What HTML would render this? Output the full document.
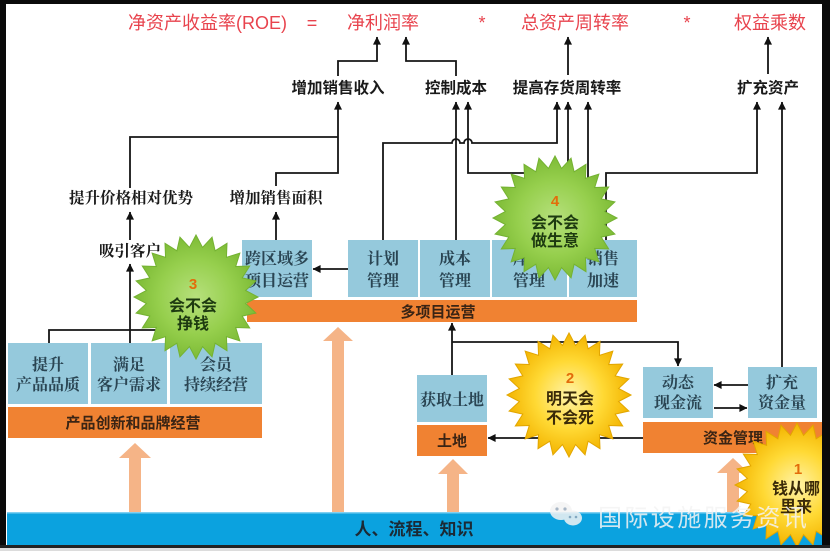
<!DOCTYPE html>
<html>
<head>
<meta charset="utf-8">
<style>
  html,body{margin:0;padding:0;background:#fff;}
  svg{display:block;}
  .t{font-family:"Liberation Sans","Noto Sans CJK SC",sans-serif;}
  .s{font-family:"Liberation Serif","Noto Serif CJK SC",serif;}
</style>
</head>
<body>
<svg width="830" height="551" viewBox="0 0 830 551" xmlns="http://www.w3.org/2000/svg">
<defs>
  <marker id="ah" viewBox="0 0 10 10" refX="9.5" refY="5" markerWidth="9" markerHeight="8" markerUnits="userSpaceOnUse" orient="auto">
    <path d="M0,0 L10,5 L0,10 z" fill="#111"/>
  </marker>
  <radialGradient id="gg" cx="50%" cy="50%" r="50%">
    <stop offset="0%" stop-color="#b6e07c"/>
    <stop offset="60%" stop-color="#96cf4d"/>
    <stop offset="100%" stop-color="#7dbb36"/>
  </radialGradient>
  <radialGradient id="yy" cx="50%" cy="50%" r="50%">
    <stop offset="0%" stop-color="#fff3a8"/>
    <stop offset="55%" stop-color="#ffd934"/>
    <stop offset="100%" stop-color="#f3b400"/>
  </radialGradient>
  <polygon id="star" points="62,0 49.57,6.53 59.89,16.05 46.19,19.13 53.69,31 39.67,30.44 43.84,43.84 30.44,39.67 31,53.69 19.13,46.19 16.05,59.89 6.53,49.57 0,62 -6.53,49.57 -16.05,59.89 -19.13,46.19 -31,53.69 -30.44,39.67 -43.84,43.84 -39.67,30.44 -53.69,31 -46.19,19.13 -59.89,16.05 -49.57,6.53 -62,0 -49.57,-6.53 -59.89,-16.05 -46.19,-19.13 -53.69,-31 -39.67,-30.44 -43.84,-43.84 -30.44,-39.67 -31,-53.69 -19.13,-46.19 -16.05,-59.89 -6.53,-49.57 0,-62 6.53,-49.57 16.05,-59.89 19.13,-46.19 31,-53.69 30.44,-39.67 43.84,-43.84 39.67,-30.44 53.69,-31 46.19,-19.13 59.89,-16.05 49.57,-6.53"/>
  <clipPath id="inner"><rect x="6" y="4" width="816" height="541"/></clipPath>
</defs>

<rect x="0" y="0" width="830" height="551" fill="#ffffff"/>

<!-- Title row -->
<g class="t" fill="#e8434d" font-size="18">
  <text x="128" y="29">净资产收益率(ROE)</text>
  <text x="312" y="29" text-anchor="middle">=</text>
  <text x="347" y="29">净利润率</text>
  <text x="482" y="29" text-anchor="middle">*</text>
  <text x="521" y="29">总资产周转率</text>
  <text x="687" y="29" text-anchor="middle">*</text>
  <text x="734" y="29">权益乘数</text>
</g>

<!-- Peach arrows -->
<g fill="#f5b487">
  <polygon points="135,443 151,458 141,458 141,512 129,512 129,458 119,458"/>
  <polygon points="338,327 353,341 344,341 344,512 332,512 332,341 323,341"/>
  <polygon points="453,459 468,474 459,474 459,512 447,512 447,474 438,474"/>
  <polygon points="733,458 749,473 739,473 739,512 727,512 727,473 717,473"/>
</g>

<!-- Bottom blue band -->
<rect x="7" y="512" width="816" height="33" fill="#0ba2df"/>
<rect x="7" y="512" width="816" height="1.5" fill="#7fd0f2"/>
<text class="t" x="414" y="535" text-anchor="middle" font-size="17" font-weight="700" fill="#1b2a35">人、流程、知识</text>

<!-- Connector lines -->
<g stroke="#151515" stroke-width="1.8" fill="none">
  <path d="M338,76 V61 H377 V37" marker-end="url(#ah)"/>
  <path d="M456,76 V61 H406 V37" marker-end="url(#ah)"/>
  <path d="M568,75 V37" marker-end="url(#ah)"/>
  <path d="M768,74 V37" marker-end="url(#ah)"/>
  <path d="M130,188 V137 H338"/>
  <path d="M276,186 V173 H338 V102" marker-end="url(#ah)"/>
  <path d="M130,240 V212" marker-end="url(#ah)"/>
  <path d="M276,240 V212" marker-end="url(#ah)"/>
  <path d="M130,343 V264" marker-end="url(#ah)"/>
  <path d="M49,343 V330 H215 V343"/>
  <path d="M348,269 H313" marker-end="url(#ah)"/>
  <path d="M383,240 V143 H452 a4,4 0 0 1 8,0 H464 a4,4 0 0 1 8,0 H557 V102" marker-end="url(#ah)"/>
  <path d="M456,240 V102" marker-end="url(#ah)"/>
  <path d="M530,240 V173 H468 V102" marker-end="url(#ah)"/>
  <path d="M568,230 V102" marker-end="url(#ah)"/>
  <path d="M588,240 V102" marker-end="url(#ah)"/>
  <path d="M606,240 V173 H757 V102" marker-end="url(#ah)"/>
  <path d="M782,367 V102" marker-end="url(#ah)"/>
  <path d="M452,375 V323" marker-end="url(#ah)"/>
  <path d="M452,342 H678 V366" marker-end="url(#ah)"/>
  <path d="M643,438 H488" marker-end="url(#ah)"/>
  <path d="M748,385 H714" marker-end="url(#ah)"/>
  <path d="M714,408 H747" marker-end="url(#ah)"/>
</g>

<!-- Labels -->
<g class="t" font-size="15.5" font-weight="700" fill="#1a1a1a" text-anchor="middle">
  <text x="338" y="93">增加销售收入</text>
  <text x="456" y="93">控制成本</text>
  <text x="567" y="93">提高存货周转率</text>
  <text x="768" y="93">扩充资产</text>
</g>
<g class="s" font-size="15.5" font-weight="700" fill="#1a1a1a" text-anchor="middle">
  <text x="131" y="203">提升价格相对优势</text>
  <text x="276" y="203">增加销售面积</text>
  <text x="130" y="256">吸引客户</text>
</g>

<!-- Blue boxes -->
<g fill="#95c9dc">
  <rect x="8" y="343" width="80" height="61"/>
  <rect x="91" y="343" width="76" height="61"/>
  <rect x="170" y="343" width="92" height="61"/>
  <rect x="242" y="240" width="70" height="57"/>
  <rect x="348" y="240" width="70" height="57"/>
  <rect x="420" y="240" width="70" height="57"/>
  <rect x="492" y="240" width="75" height="57"/>
  <rect x="569" y="240" width="68" height="57"/>
  <rect x="417" y="375" width="70" height="47"/>
  <rect x="643" y="367" width="70" height="51"/>
  <rect x="748" y="367" width="69" height="51"/>
</g>

<!-- Orange bars -->
<g fill="#f08232">
  <rect x="8" y="407" width="254" height="31"/>
  <rect x="247" y="300" width="390" height="22"/>
  <rect x="417" y="425" width="70" height="31"/>
  <rect x="643" y="422" width="179" height="31"/>
</g>

<!-- Box texts -->
<g class="s" font-size="16" font-weight="700" fill="#2a4553" text-anchor="middle">
  <text x="48" y="370">提升</text><text x="48" y="390">产品品质</text>
  <text x="129" y="370">满足</text><text x="129" y="390">客户需求</text>
  <text x="216" y="370">会员</text><text x="216" y="390">持续经营</text>
  <text x="277" y="264">跨区域多</text><text x="277" y="286">项目运营</text>
  <text x="383" y="264">计划</text><text x="383" y="286">管理</text>
  <text x="455" y="264">成本</text><text x="455" y="286">管理</text>
  <text x="529" y="264">库存</text><text x="529" y="286">管理</text>
  <text x="603" y="264">销售</text><text x="603" y="286">加速</text>
  <text x="452" y="405">获取土地</text>
  <text x="678" y="388">动态</text><text x="678" y="408">现金流</text>
  <text x="782" y="388">扩充</text><text x="782" y="408">资金量</text>
</g>
<g class="t" font-size="15" font-weight="700" fill="#3a2414" text-anchor="middle">
  <text x="133" y="428">产品创新和品牌经营</text>
  <text x="438" y="317">多项目运营</text>
  <text x="452" y="446">土地</text>
  <text x="733" y="443">资金管理</text>
</g>

<!-- Stars -->
<use href="#star" transform="translate(196,297)" fill="url(#gg)" stroke="#74b232" stroke-width="1"/>
<use href="#star" transform="translate(555,218)" fill="url(#gg)" stroke="#74b232" stroke-width="1"/>
<use href="#star" transform="translate(569,395)" fill="url(#yy)" stroke="#e2a600" stroke-width="1"/>
<g clip-path="url(#inner)">
  <use href="#star" transform="translate(797,485)" fill="url(#yy)" stroke="#e2a600" stroke-width="1"/>
</g>

<g class="t" font-weight="700" text-anchor="middle">
  <text x="193" y="289" font-size="15" fill="#e36c0a">3</text>
  <text x="193" y="311" font-size="16" fill="#1d3a10">会不会</text>
  <text x="193" y="329" font-size="16" fill="#1d3a10">挣钱</text>

  <text x="555" y="206" font-size="15" fill="#e36c0a">4</text>
  <text x="555" y="228" font-size="16" fill="#1d3a10">会不会</text>
  <text x="555" y="246" font-size="16" fill="#1d3a10">做生意</text>

  <text x="570" y="383" font-size="15" fill="#e36c0a">2</text>
  <text x="570" y="404" font-size="16" fill="#3a2a08">明天会</text>
  <text x="570" y="423" font-size="16" fill="#3a2a08">不会死</text>

  <text x="798" y="474" font-size="15" fill="#e36c0a">1</text>
  <text x="796" y="494" font-size="16" fill="#3a2a08">钱从哪</text>
  <text x="796" y="512" font-size="16" fill="#3a2a08">里来</text>
</g>

<!-- Frame -->
<rect x="0" y="0" width="830" height="4" fill="#0a0a0a"/>
<rect x="0" y="0" width="6" height="548" fill="#0a0a0a"/>
<rect x="822" y="0" width="8" height="548" fill="#0a0a0a"/>
<rect x="0" y="545" width="830" height="3" fill="#222"/>
<rect x="0" y="548" width="830" height="3" fill="#dcdcdc"/>

<!-- Watermark -->
<g opacity="0.85" fill="#f4f4f4">
  <ellipse cx="561" cy="511" rx="11" ry="9"/>
  <ellipse cx="573" cy="518" rx="9" ry="7.5"/>
  <circle cx="557" cy="509" r="1.6" fill="#9ab"/>
  <circle cx="565" cy="509" r="1.6" fill="#9ab"/>
  <circle cx="570" cy="517" r="1.3" fill="#9ab"/>
  <circle cx="576" cy="517" r="1.3" fill="#9ab"/>
  <text class="t" x="598" y="526" font-size="24" letter-spacing="2.4">国际设施服务资讯</text>
</g>
</svg>
</body>
</html>
